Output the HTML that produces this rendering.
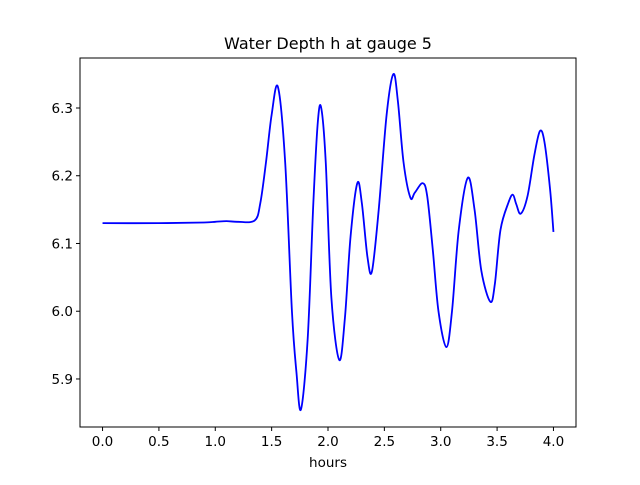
<!DOCTYPE html>
<html><head><meta charset="utf-8"><style>
body{margin:0;background:#fff}
svg text{font-family:"DejaVu Sans","Liberation Sans",sans-serif;fill:#000}
</style></head><body>
<svg id="chart" width="640" height="480" xmlns="http://www.w3.org/2000/svg">
<rect width="640" height="480" fill="#fff"/>
<text x="328" y="49" font-size="16" text-anchor="middle">Water Depth h at gauge 5</text>
<g id="plot"></g>
<rect x="80" y="58" width="496" height="369" fill="none" stroke="#000" stroke-width="1"/>
<text x="328" y="467" font-size="13.5" text-anchor="middle">hours</text>
</svg>
<script>
const hours = [0,0.5,0.9,1.0,1.1,1.2,1.35,1.4,1.45,1.5,1.556,1.62,1.68,1.72,1.76,1.82,1.87,1.91,1.94,1.98,2.03,2.1,2.15,2.2,2.26,2.3,2.35,2.39,2.45,2.52,2.58,2.62,2.67,2.73,2.77,2.84,2.88,2.93,2.98,3.05,3.1,3.16,3.24,3.3,3.36,3.44,3.48,3.53,3.6,3.64,3.67,3.71,3.77,3.83,3.88,3.92,3.97,4.0];
const depth = [6.130,6.130,6.131,6.132,6.133,6.132,6.134,6.16,6.22,6.29,6.331,6.22,6.0,5.91,5.855,5.96,6.16,6.28,6.30,6.22,6.02,5.928,5.99,6.11,6.189,6.16,6.08,6.059,6.15,6.29,6.350,6.31,6.22,6.168,6.175,6.189,6.17,6.09,6.0,5.947,6.0,6.12,6.197,6.15,6.06,6.014,6.04,6.12,6.16,6.172,6.158,6.144,6.17,6.23,6.266,6.25,6.18,6.117];
const xTicks = [0.0,0.5,1.0,1.5,2.0,2.5,3.0,3.5,4.0];
const yTicks = [5.9,6.0,6.1,6.2,6.3];
const L=80,R=576,T=58,B=427;
const xMin=-0.2,xMax=4.2,yMin=5.8291,yMax=6.3738;
const sx=v=>L+(v-xMin)/(xMax-xMin)*(R-L);
const sy=v=>B-(v-yMin)/(yMax-yMin)*(B-T);
const NS="http://www.w3.org/2000/svg";
const g=document.getElementById('plot');
function mk(t,a){const e=document.createElementNS(NS,t);for(const k in a)e.setAttribute(k,a[k]);g.appendChild(e);return e;}
xTicks.forEach(v=>{
  const l=mk('line',{x1:sx(v),x2:sx(v),y1:B,y2:B+4,stroke:'#000'});
  
  
  const t=mk('text',{x:sx(v),y:B+19,'font-size':'13.5','text-anchor':'middle'});
  t.textContent=v.toFixed(1);
  
  
});
yTicks.forEach(v=>{
  const l=mk('line',{x1:L-4,x2:L,y1:sy(v),y2:sy(v),stroke:'#000'});
  
  
  const t=mk('text',{x:L-7,y:sy(v)+5,'font-size':'13.5','text-anchor':'end'});
  t.textContent=v.toFixed(1);
  
  
});
const P=hours.map((h,i)=>[sx(h),sy(depth[i])]);
let d='M'+P[0][0]+','+P[0][1];
for(let i=0;i<P.length-1;i++){
  const p0=P[Math.max(0,i-1)],p1=P[i],p2=P[i+1],p3=P[Math.min(P.length-1,i+2)];
  const c1=[p1[0]+(p2[0]-p0[0])/6,p1[1]+(p2[1]-p0[1])/6];
  const c2=[p2[0]-(p3[0]-p1[0])/6,p2[1]-(p3[1]-p1[1])/6];
  d+=` C${c1[0]},${c1[1]} ${c2[0]},${c2[1]} ${p2[0]},${p2[1]}`;
}
const line=mk('path',{d:d,fill:'none',stroke:'#0000ff','stroke-width':'1.8'});


</script>
</body></html>
